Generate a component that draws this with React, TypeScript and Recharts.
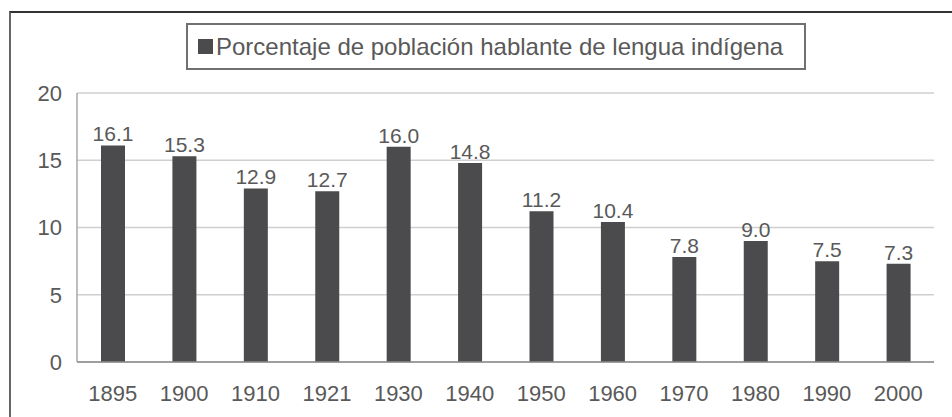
import { BarChart, Bar, XAxis, YAxis, CartesianGrid, Legend, LabelList } from "recharts"

const years = ["1895", "1900", "1910", "1921", "1930", "1940", "1950", "1960", "1970", "1980", "1990", "2000"]
const porcentaje = [16.1, 15.3, 12.9, 12.7, 16.0, 14.8, 11.2, 10.4, 7.8, 9.0, 7.5, 7.3]
const yTicks = [0, 5, 10, 15, 20]
const seriesName = "Porcentaje de población hablante de lengua indígena"

const data = years.map((year, i) => ({ year, porcentaje: porcentaje[i] }))

const font = "'Liberation Sans', Arial, sans-serif"
const textColor = "#595959"
const barColor = "#4b4b4d"

function LegendBox() {
  return (
    <div
      style={{
        boxSizing: "border-box",
        width: 620,
        height: 47,
        border: "2px solid #707070",
        display: "flex",
        alignItems: "center",
        paddingLeft: 10,
        fontFamily: font,
        fontSize: 24,
        color: textColor,
        background: "#fff",
      }}
    >
      <span style={{ display: "inline-block", width: 15, height: 15, background: barColor, marginRight: 3 }} />
      <span>{seriesName}</span>
    </div>
  )
}

export default function App() {
  return (
    <div style={{ position: "absolute", left: 0, top: 0, width: 952, height: 417, background: "#fff" }}>
      <div
        style={{
          position: "absolute",
          left: 9,
          top: 11,
          width: 943,
          height: 406,
          borderTop: "2px solid #333",
          borderLeft: "2px solid #666",
        }}
      />
      <div style={{ position: "absolute", left: 0, top: 0 }}>
        <BarChart
          width={952}
          height={417}
          data={data}
          margin={{ top: 93, right: 18, left: 37, bottom: 15 }}
          barSize={24}
        >
          <CartesianGrid vertical={false} stroke="#cfcfcf" strokeWidth={1.5} />
          <XAxis
            dataKey="year"
            height={40}
            stroke="#8a8a8a"
            strokeWidth={1.5}
            tickLine={false}
            tickSize={0}
            tickMargin={23}
            tick={{ fill: textColor, fontSize: 22, fontFamily: font }}
          />
          <YAxis
            width={40}
            domain={[0, 20]}
            ticks={yTicks}
            stroke="#a8a8a8"
            strokeWidth={1.5}
            tickLine={false}
            tickSize={0}
            tickMargin={15}
            tick={{ fill: textColor, fontSize: 22, fontFamily: font }}
          />
          <Legend
            layout="horizontal"
            verticalAlign="middle"
            align="center"
            wrapperStyle={{ top: 23, left: 186, width: 620, height: 47 }}
            content={() => <LegendBox />}
          />
          <Bar dataKey="porcentaje" name={seriesName} fill={barColor} isAnimationActive={false}>
            <LabelList
              dataKey="porcentaje"
              position="top"
              offset={4}
              formatter={(v: any) => Number(v).toFixed(1)}
              style={{ fill: textColor, fontSize: 21, fontFamily: font }}
            />
          </Bar>
        </BarChart>
      </div>
    </div>
  )
}
